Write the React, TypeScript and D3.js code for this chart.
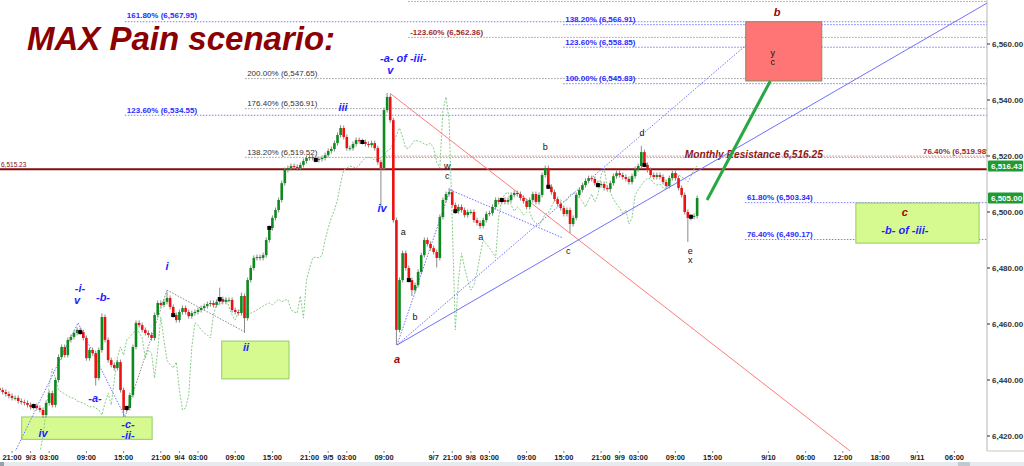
import React from "react";
import * as d3 from "d3";

// ---- chart frame ----
const WIDTH = 1024;
const HEIGHT = 466;
const PLOT_RIGHT = 987;
const PLOT_BOTTOM = 451;
const FONT = "'Liberation Sans', Arial, sans-serif";

// ---- time axis: session hours counted from 9/2 18:00, weekend gap removed ----
const HOUR_DOMAIN: [number, number] = [0, 160.25];
const FIRST_BAR_HOUR = 1;
const BAR_HOURS = 0.5;

const timeTickHours = [3, 6, 9, 15, 21, 27, 30, 33, 39, 45, 51, 54, 57, 63, 71, 74, 77, 80, 86, 92, 98, 101, 104, 110, 116, 125, 131, 137, 143, 149, 155];
const timeTickLabels = ["21:00", "9/3", "03:00", "09:00", "15:00", "21:00", "9/4", "03:00", "09:00", "15:00", "21:00", "9/5", "03:00", "09:00", "9/7", "21:00", "9/8", "03:00", "09:00", "15:00", "21:00", "9/9", "03:00", "09:00", "15:00", "9/10", "06:00", "12:00", "18:00", "9/11", "06:00"];

const priceTicks = [6420, 6440, 6460, 6480, 6500, 6520, 6540, 6560];

// ---- 30-minute closes ----
const closes: number[] = [
  6436.4, 6435.7, 6435.0, 6434.3, 6433.6, 6433.6, 6432.5, 6432.1, 6431.8, 6431.1,
  6430.3, 6430.7, 6430.0, 6429.3, 6427.5, 6431.8, 6435.3, 6431.1, 6440.0, 6448.2,
  6451.8, 6448.9, 6454.3, 6455.4, 6456.8, 6457.9, 6457.1, 6455.0, 6447.8, 6450.7,
  6449.6, 6440.7, 6450.7, 6462.5, 6454.3, 6447.1, 6445.4, 6444.3, 6446.4, 6436.4,
  6429.3, 6430.0, 6434.6, 6451.8, 6460.4, 6459.6, 6457.9, 6456.8, 6456.1, 6455.0,
  6463.2, 6467.5, 6466.8, 6467.9, 6469.3, 6466.1, 6463.2, 6461.4, 6464.3, 6465.7,
  6464.3, 6462.8, 6463.9, 6464.3, 6465.0, 6465.7, 6466.4, 6467.1, 6467.5, 6466.8,
  6467.9, 6468.9, 6467.9, 6468.6, 6468.6, 6465.0, 6464.3, 6463.9, 6470.0, 6462.1,
  6475.7, 6480.0, 6483.6, 6483.9, 6483.6, 6484.6, 6490.0, 6494.3, 6497.9, 6500.7,
  6504.3, 6510.3, 6515.0, 6515.7, 6516.4, 6516.1, 6515.7, 6516.8, 6518.2, 6519.3,
  6519.6, 6519.3, 6518.6, 6518.9, 6519.3, 6520.3, 6521.8, 6522.5, 6524.6, 6527.5,
  6530.0, 6526.8, 6522.8, 6522.8, 6524.3, 6525.7, 6525.3, 6525.0, 6524.3, 6523.9,
  6524.6, 6522.8, 6517.8, 6515.7, 6536.4, 6541.1, 6532.8, 6497.1, 6457.9, 6475.7,
  6485.3, 6480.0, 6475.7, 6472.1, 6473.9, 6478.6, 6484.6, 6490.0, 6488.6, 6487.1,
  6485.7, 6483.6, 6498.2, 6504.3, 6506.4, 6507.1, 6502.5, 6500.3, 6501.8, 6500.7,
  6498.9, 6500.0, 6500.0, 6497.1, 6496.1, 6495.0, 6497.1, 6499.3, 6499.6, 6501.8,
  6504.3, 6503.6, 6504.3, 6503.6, 6504.3, 6506.1, 6506.8, 6506.4, 6505.0, 6503.9,
  6501.8, 6504.3, 6506.4, 6503.6, 6506.1, 6513.2, 6515.7, 6509.0, 6507.1, 6504.6,
  6502.9, 6501.4, 6499.3, 6500.7, 6495.7, 6497.9, 6506.1, 6507.9, 6509.6, 6511.1,
  6512.1, 6511.8, 6510.3, 6509.6, 6510.0, 6508.6, 6508.2, 6510.3, 6512.8, 6513.9,
  6513.2, 6512.5, 6511.8, 6510.7, 6512.8, 6515.3, 6516.43, 6521.4, 6516.8, 6515.0,
  6513.2, 6512.5, 6513.2, 6512.5, 6510.7, 6509.3, 6512.1, 6513.9, 6512.1, 6508.6,
  6506.1, 6500.0, 6497.9, 6498.3, 6498.6, 6505.0,
];
const FIRST_OPEN = 6437.0;
const WICK = 0.9;

// wick extremes that reach beyond the usual small shadows: [bar, price]
const wickHighs: [number, number][] = [
  [33, 6463.8], [54, 6471.5], [71, 6473.0], [78, 6471.2], [110, 6531.0],
  [125, 6542.5], [145, 6508.6], [176, 6516.6], [207, 6523.6],
];
const wickLows: [number, number][] = [
  [14, 6426.4], [31, 6438.0], [40, 6426.8], [79, 6456.8], [123, 6502.0],
  [128, 6452.5], [133, 6470.0], [141, 6480.2], [184, 6492.5], [222, 6489.3],
];

// closes before the first drawn bar, used only by the lagging line
const priorCloses = [6414.0, 6420.0, 6429.0, 6438.0, 6444.0, 6440.7];
const LAG_BARS = 19;

// bars carrying a black square marker
const markerBars = [11, 26, 41, 56, 71, 87, 102, 117, 132, 147, 162, 177, 193, 208, 223];

// ---- fibonacci levels ----
type Fib = { label: string; price: number; fromHour: number; labelHour?: number; labelLift?: number; kind: "blue" | "gray" | "red" };
const fibLevels: Fib[] = [
  { label: "", price: 6575.2, fromHour: 66.9, kind: "red" },
  { label: "161.80% (6,567.95)", price: 6567.95, fromHour: 21.2, labelLift: 4, kind: "blue" },
  { label: "138.20% (6,566.91)", price: 6566.91, fromHour: 91.9, kind: "blue" },
  { label: "-123.60% (6,562.36)", price: 6562.36, fromHour: 66.9, kind: "red" },
  { label: "123.60% (6,558.85)", price: 6558.85, fromHour: 91.9, kind: "blue" },
  { label: "200.00% (6,547.65)", price: 6547.65, fromHour: 40.6, kind: "gray" },
  { label: "100.00% (6,545.83)", price: 6545.83, fromHour: 91.9, kind: "blue" },
  { label: "176.40% (6,536.91)", price: 6536.91, fromHour: 40.6, kind: "gray" },
  { label: "123.60% (6,534.55)", price: 6534.55, fromHour: 21.2, kind: "blue" },
  { label: "76.40% (6,519.98)", price: 6519.98, fromHour: 63.2, labelHour: 149.6, kind: "red" },
  { label: "138.20% (6,519.52)", price: 6519.52, fromHour: 40.6, kind: "gray" },
  { label: "61.80% (6,503.34)", price: 6503.34, fromHour: 121.2, kind: "blue" },
  { label: "76.40% (6,490.17)", price: 6490.17, fromHour: 121.2, kind: "blue" },
];
const fibColors = { blue: "#7a7aff", gray: "#9a9a9a", red: "#d48a8a" };
const fibTextColors = { blue: "#2b2bff", gray: "#333333", red: "#a02828" };

const MONTHLY_LEVEL = 6515.23;

// ---- drawn trend lines: [hour, price] endpoints ----
type Seg = { from: [number, number]; to: [number, number]; color: string; dash?: string; width: number };
const trendLines: Seg[] = [
  { from: [3.48, 6414.3], to: [13.65, 6460.4], color: "#6f6fff", dash: "1.5,1.5", width: 1 },
  { from: [13.65, 6460.4], to: [21.23, 6426.8], color: "#6f6fff", dash: "1.5,1.5", width: 1 },
  { from: [21.23, 6426.8], to: [28.0, 6472.1], color: "#8a8a8a", dash: "1.5,1.5", width: 1 },
  { from: [28.0, 6472.1], to: [40.6, 6457.1], color: "#8a8a8a", dash: "1.5,1.5", width: 1 },
  { from: [65.1, 6452.5], to: [73.65, 6507.9], color: "#6f6fff", dash: "1.5,1.5", width: 1 },
  { from: [73.65, 6507.9], to: [91.9, 6490.7], color: "#6f6fff", dash: "1.5,1.5", width: 1 },
  { from: [65.1, 6452.5], to: [121.4, 6559.6], color: "#6f6fff", dash: "1.5,1.5", width: 1 },
  { from: [63.97, 6542.4], to: [138.2, 6414.6], color: "#ff7a7a", width: 1 },
  { from: [65.1, 6452.5], to: [160.25, 6574.6], color: "#7070ff", width: 1 },
];
const projection: Seg = { from: [115.1, 6504.3], to: [125.3, 6546.8], color: "#28a745", width: 3 };

// ---- target zones ----
type Zone = { h0: number; h1: number; p0: number; p1: number; fill: string; stroke: string };
const zones: Zone[] = [
  { h0: 4.56, h1: 25.6, p0: 6426.8, p1: 6418.8, fill: "#d6fa90", stroke: "#92cc66" },
  { h0: 36.82, h1: 47.68, p0: 6453.9, p1: 6440.4, fill: "#d6fa90", stroke: "#92cc66" },
  { h0: 139.1, h1: 158.97, p0: 6503.2, p1: 6488.9, fill: "#d6fa90", stroke: "#92cc66" },
  { h0: 121.34, h1: 133.6, p0: 6567.95, p1: 6546.8, fill: "#ff7575", stroke: "#7f8f5e" },
];

// ---- wave labels: [hour, baseline price, text] ----
type Lbl = [number, number, string];
const blueWaves: Lbl[] = [
  [8.0, 6419.6, "iv"], [13.97, 6471.4, "-i-"], [13.48, 6467.2, "v"], [17.68, 6468.2, "-b-"],
  [16.39, 6432.1, "-a-"], [21.71, 6422.9, "-c-"], [21.71, 6418.9, "-ii-"], [28.0, 6479.3, "i"],
  [40.74, 6450.4, "ii"], [56.4, 6536.1, "iii"], [62.7, 6500.0, "iv"], [66.1, 6553.6, "-a- of -iii-"],
  [64.0, 6549.3, "v"], [147.0, 6492.1, "-b- of -iii-"],
];
const redWaves: Lbl[] = [[65.1, 6446.1, "a"], [126.4, 6570.0, "b"], [147.0, 6498.6, "c"]];
const minorWaves: Lbl[] = [
  [66.1, 6491.8, "a"], [68.0, 6461.4, "b"], [73.2, 6515.3, "w"], [73.2, 6511.8, "c"],
  [78.6, 6490.0, "a"], [89.0, 6522.1, "b"], [92.7, 6485.0, "c"], [104.6, 6527.1, "d"],
  [112.4, 6485.0, "e"], [112.4, 6481.8, "x"], [125.7, 6555.7, "y"], [125.7, 6552.5, "c"],
];

export default function App() {
  const x = d3.scaleLinear().domain(HOUR_DOMAIN).range([-6.6, PLOT_RIGHT]);
  const y = d3.scaleLinear().domain([6420, 6560]).range([436, 44]);
  const barHour = (i: number) => FIRST_BAR_HOUR + i * BAR_HOURS;
  const fmt = d3.format(",.2f");

  const highMap = new Map(wickHighs);
  const lowMap = new Map(wickLows);
  const bars = closes.map((c, i) => {
    const o = i === 0 ? FIRST_OPEN : closes[i - 1];
    const h = highMap.get(i) ?? Math.max(o, c) + WICK;
    const l = lowMap.get(i) ?? Math.min(o, c) - WICK;
    return { i, o, h, l, c };
  });

  const lagged: [number, number][] = [];
  for (let i = LAG_BARS - priorCloses.length; i < closes.length; i++) {
    const src = i - LAG_BARS;
    const v = src >= 0 ? closes[src] : priorCloses[priorCloses.length + src];
    lagged.push([barHour(i), v]);
  }
  const lagPath = d3.line<[number, number]>().x((d) => x(d[0])).y((d) => y(d[1]))(lagged) || "";
  const lastLag = lagged[lagged.length - 1][1];
  const lastClose = closes[closes.length - 1];

  const bodyW = 2.6;

  const seg = (s: Seg, key: string) => (
    <line key={key} x1={x(s.from[0])} y1={y(s.from[1])} x2={x(s.to[0])} y2={y(s.to[1])}
      stroke={s.color} strokeWidth={s.width} strokeDasharray={s.dash} />
  );

  return (
    <svg width={WIDTH} height={HEIGHT} style={{ position: "absolute", left: 0, top: 0, background: "#fff" }}
      fontFamily={FONT}>
      <defs>
        <clipPath id="plot">
          <rect x={0} y={0} width={PLOT_RIGHT} height={PLOT_BOTTOM} />
        </clipPath>
      </defs>

      <g clipPath="url(#plot)">
        {/* fibonacci levels */}
        {fibLevels.map((f, k) => (
          <g key={"fib" + k}>
            <line x1={x(f.fromHour)} x2={PLOT_RIGHT} y1={y(f.price)} y2={y(f.price)}
              stroke={fibColors[f.kind]} strokeWidth={1} strokeDasharray="1.5,1.5" />
            {f.label && (
              <text x={x(f.labelHour ?? f.fromHour) + 2} y={y(f.price) - (f.labelLift ?? 2.5)} fontSize={8}
                fontWeight={f.kind === "gray" ? "normal" : "bold"} fill={fibTextColors[f.kind]}>
                {f.label}
              </text>
            )}
          </g>
        ))}

        {/* monthly resistance */}
        <line x1={0} x2={PLOT_RIGHT} y1={y(MONTHLY_LEVEL)} y2={y(MONTHLY_LEVEL)} stroke="#8b0a0a" strokeWidth={2} />
        <text x={1} y={y(MONTHLY_LEVEL) - 2.5} fontSize={6.5} fill="#8b0a0a">{fmt(MONTHLY_LEVEL)}</text>
        <text x={x(111.5)} y={y(6519.3)} fontSize={10.2} fontWeight="bold" fontStyle="italic" fill="#8b1a1a">
          Monthly Resistance 6,516.25
        </text>

        {/* zones */}
        {zones.map((z, k) => (
          <rect key={"z" + k} x={x(z.h0)} y={y(z.p0)} width={x(z.h1) - x(z.h0)} height={y(z.p1) - y(z.p0)}
            fill={z.fill} stroke={z.stroke} strokeWidth={1} />
        ))}

        {/* lagging close */}
        <path d={lagPath} fill="none" stroke="#86cc86" strokeWidth={1} strokeDasharray="2,1.5" />

        {/* trend lines */}
        {trendLines.map((s, k) => seg(s, "t" + k))}

        {/* candles */}
        {bars.map((b) => {
          const cx = x(barHour(b.i));
          const up = b.c >= b.o;
          const top = y(Math.max(b.o, b.c));
          const bh = Math.max(1, y(Math.min(b.o, b.c)) - top);
          return (
            <g key={"b" + b.i}>
              <line x1={cx} x2={cx} y1={y(b.h)} y2={y(b.l)} stroke="#8a8a8a" strokeWidth={1} />
              <rect x={cx - bodyW / 2} y={top} width={bodyW} height={bh} fill={up ? "#0d8a1e" : "#ee1111"} />
            </g>
          );
        })}

        {/* markers */}
        {markerBars.map((i) => (
          <rect key={"m" + i} x={x(barHour(i)) - 2} y={y(closes[i]) - 2} width={4} height={4} fill="#000" />
        ))}

        {seg(projection, "proj")}

        {/* wave labels */}
        {blueWaves.map(([h, p, t], k) => (
          <text key={"bw" + k} x={x(h)} y={y(p)} textAnchor="middle" fontSize={11} fontWeight="bold"
            fontStyle="italic" fill="#2323ff">{t}</text>
        ))}
        {redWaves.map(([h, p, t], k) => (
          <text key={"rw" + k} x={x(h)} y={y(p)} textAnchor="middle" fontSize={11} fontWeight="bold"
            fontStyle="italic" fill="#a00000">{t}</text>
        ))}
        {minorWaves.map(([h, p, t], k) => (
          <text key={"mw" + k} x={x(h)} y={y(p)} textAnchor="middle" fontSize={9} fill="#111">{t}</text>
        ))}
      </g>

      {/* title */}
      <text x={27} y={49.5} fontSize={33} fontWeight="bold" fontStyle="italic" fill="#8b0000">MAX Pain scenario:</text>

      {/* price axis */}
      <line x1={PLOT_RIGHT} x2={PLOT_RIGHT} y1={0} y2={PLOT_BOTTOM} stroke="#b5b5b5" strokeWidth={1} />
      <line x1={PLOT_RIGHT} x2={WIDTH} y1={PLOT_BOTTOM} y2={PLOT_BOTTOM} stroke="#c8c8c8" strokeWidth={1} />
      {priceTicks.map((p) => (
        <g key={"pt" + p}>
          <line x1={PLOT_RIGHT} x2={PLOT_RIGHT + 3} y1={y(p)} y2={y(p)} stroke="#333" />
          <text x={PLOT_RIGHT + 5} y={y(p) + 3} fontSize={8} fontWeight="bold" fill="#333">{fmt(p)}</text>
        </g>
      ))}
      {[lastLag, lastClose].map((v, k) => (
        <g key={"tag" + k}>
          <rect x={PLOT_RIGHT + 1} y={y(v) - 5.5} width={35} height={11} rx={1} fill="#1f9a36" />
          <text x={PLOT_RIGHT + 4} y={y(v) + 3} fontSize={8} fontWeight="bold" fill="#fff">{fmt(v)}</text>
        </g>
      ))}

      {/* time axis */}
      {timeTickHours.map((h, k) => (
        <g key={"tt" + k}>
          <line x1={x(h)} x2={x(h)} y1={PLOT_BOTTOM} y2={PLOT_BOTTOM + 2} stroke="#888" />
          <text x={x(h)} y={460} textAnchor="middle" fontSize={7.5} fontWeight="bold" fill="#222">
            {timeTickLabels[k]}
          </text>
        </g>
      ))}

      {/* scroll strip */}
      <rect x={0} y={462} width={WIDTH} height={4} fill="#e7ebef" />
      <rect x={0} y={462} width={4} height={4} fill="#9aa0a8" />
      <rect x={958} y={462} width={12} height={4} fill="#c2c8cf" />
    </svg>
  );
}
